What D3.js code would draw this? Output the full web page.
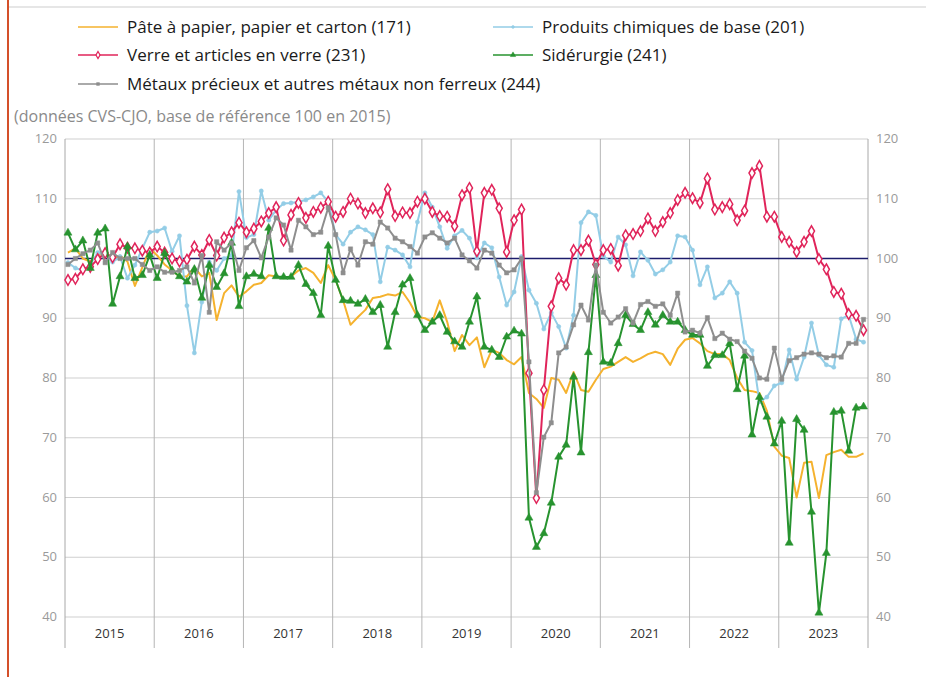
<!DOCTYPE html>
<html>
<head>
<meta charset="utf-8">
<script src="https://cdn.jsdelivr.net/npm/d3@7"></script>
<style>
  body { margin: 0; background: #fff; }
  svg { display: block; font-family: "Open Sans", "Noto Sans", sans-serif; }
</style>
</head>
<body>
<svg id="chart" width="926" height="677"></svg>
<script>
// indices mensuels, janv. 2015 -> déc. 2023
const years = ['2015', '2016', '2017', '2018', '2019', '2020', '2021', '2022', '2023'];
const yTicks = [40, 50, 60, 70, 80, 90, 100, 110, 120];

const papier = [
  101, 101.7, 100, 99.5, 100.5, 101, 100, 100.5, 99.5, 95.4, 98.5, 101.7,
  100.5, 99, 98, 97, 97, 98.5, 97, 97.6, 89.7, 94.2, 95.5, 93.6,
  94.5, 95.6, 95.9, 97.2, 97, 96.7, 97, 98, 98.4, 97.6, 95.9, 98.9,
  96.4, 93, 88.9, 90.2, 91.4, 93.4, 93.6, 94, 93.8, 94.4, 92.6, 90.2,
  90, 89.4, 93, 89.4, 84.5, 87.2, 85.5, 86.8, 81.8, 84.7, 84.2, 83,
  82.3, 83.5, 77.5, 76.5, 75, 80, 79.7, 77.5, 81, 78, 77.7, 79.7,
  81.5, 81.9, 82.7, 83.5, 82.7, 83.3, 84, 84.4, 84, 82.2, 84.9, 86.4,
  86.7, 85.8, 84.5, 84, 84, 83, 80, 78, 77.8, 77.5, 74.5, 68.5,
  67, 66.6, 60, 65.8, 66, 59.9, 67.1, 67.6, 68, 66.8, 66.8, 67.4
];

const chimie = [
  99.3, 98.4, 98, 99, 101, 100.6, 99.4, 100.3, 96.7, 98.9, 101.7, 104.4,
  104.6, 105.1, 101.2, 103.8, 92.1, 84.2, 92.7, 99.4, 98, 100, 100.5, 111.2,
  103.5, 104, 111.3, 106.4, 108.1, 109.2, 109.3, 109.5, 109.8, 110.3, 111, 109.5,
  104, 102.4, 104.4, 105.3, 104.8, 104, 96.1, 101.9, 101.4, 100.6, 98.6, 106.1,
  111, 108.6, 105.3, 101.7, 103.8, 104.7, 103.4, 100.1, 102.6, 101.8, 96.9, 92.2,
  94.4, 100.3, 94.7, 92.5, 88.2, 90.9, 88.6, 85, 90.5, 106, 107.8, 107.2,
  100.4, 99.4, 103.6, 102.3, 97.1, 101.1, 99.7, 97.4, 98.1, 99.4, 103.8, 103.6,
  101.4, 95.6, 98.6, 93.4, 94.2, 96.1, 94.2, 86, 84.6, 76, 76.8, 78.7,
  79.2, 84.7, 79.8, 83.5, 89.2, 83.8, 82.2, 81.8, 89.9, 90.5, 86.5, 86
];

const verre = [
  96.4, 96.6, 98.2, 98.6, 99.9, 100.9, 100.2, 102.4, 101.8, 101.7, 101.3, 101,
  102, 101, 100, 99.5, 99.8, 102, 100.6, 103.1, 100.5, 103.5, 104.4, 106,
  104.4, 105, 106.2, 107.6, 108.6, 103, 107.3, 109.3, 106.8, 107.8, 108.5, 109.5,
  107, 107.8, 110, 109.2, 107.6, 108.4, 107.7, 111.6, 107.1, 107.7, 107.6, 109.5,
  110, 107.8, 107.1, 107, 105.4, 110.6, 111.8, 101.2, 111, 111.5, 108.4, 101.1,
  106.4, 108.2, 80.8, 59.9, 78, 92, 96.7, 95.6, 101.4, 101.4, 103, 99,
  101.4, 101.6, 98.8, 103.9, 104.1, 104.6, 106.7, 104.6, 106.1, 107.6, 109.8, 111,
  110.1, 109.3, 113.4, 108.2, 108.6, 109.1, 106.4, 108, 114.3, 115.5, 107, 107,
  103.6, 102.8, 101.1, 102.8, 104.6, 99.9, 98.2, 94.4, 94.1, 90.7, 90.4, 88
];

const siderurgie = [
  104.3, 101.5, 103, 98.4, 104.3, 105, 92.4, 97, 102, 96.7, 97.2, 100.6,
  96.7, 100.9, 98, 97, 96.1, 98.2, 93.4, 98.9, 95.2, 97.5, 102.6, 92,
  97, 97.4, 97, 105.1, 97, 96.9, 96.9, 98.9, 95.7, 94.2, 90.5, 102.1,
  96.4, 93, 92.9, 92.4, 93.2, 91, 92.2, 85.2, 91, 95.6, 96.7, 90.5,
  88, 89.4, 90.5, 87.7, 86.1, 85.2, 89.4, 93.6, 85.2, 84.7, 83.5, 86.9,
  87.9, 87.4, 56.6, 51.7, 54, 59.1, 66.8, 68.8, 80.2, 67.5, 84.3, 97.2,
  82.7, 82.5, 85.8, 90.5, 89, 88, 91, 88.9, 90.5, 89.4, 89.4, 88,
  87.2, 87.2, 82, 83.8, 83.8, 85.8, 78.1, 83.7, 70.5, 76.8, 73.5, 69,
  72.8, 52.4, 73.1, 71.3, 57.6, 40.7, 50.7, 74.3, 74.5, 67.8, 75, 75.2
];

const metaux = [
  99, 100, 100.8, 101.4, 102.6, 99.3, 101, 100, 100, 100, 99, 98,
  98.6, 97.7, 97.7, 98, 98.6, 95.9, 100.5, 91, 102.8, 101.4, 102.6, 98,
  101.8, 103, 100.1, 103.6, 106.8, 105.6, 101.4, 106.4, 105.3, 104, 104.4, 108.5,
  104, 97.6, 101.6, 98.9, 102.8, 102.4, 106.1, 105.1, 103.4, 102.8, 102, 100.9,
  103.6, 104.3, 103.4, 102.6, 103.4, 100.6, 99.6, 98.4, 101.4, 100.9, 98.9, 97.6,
  98.1, 100, 82.7, 60.8, 70.1, 72.5, 84.2, 85.2, 88.9, 92.2, 89.7, 98.9,
  91, 89.2, 90.2, 91.6, 89.2, 92.3, 92.8, 92, 92.4, 90.5, 94.2, 87.7,
  88, 87.5, 90.1, 86.6, 87.5, 86.5, 86.1, 84.5, 83.3, 80, 79.8, 85,
  79.8, 82.9, 83.4, 84, 84.2, 84, 83.4, 83.7, 83.5, 85.8, 85.8, 89.8
];

const series = [
  { label: 'Pâte à papier, papier et carton (171)', values: papier, color: '#f5b22e', symbol: null },
  { label: 'Produits chimiques de base (201)', values: chimie, color: '#93cde6', symbol: d3.symbolCircle, size: 14, fill: '#93cde6' },
  { label: 'Verre et articles en verre (231)', values: verre, color: '#e0245a', symbol: d3.symbolDiamond, size: 32, fill: '#fff' },
  { label: 'Sidérurgie (241)', values: siderurgie, color: '#27932f', symbol: d3.symbolTriangle, size: 28, fill: '#27932f' },
  { label: 'Métaux précieux et autres métaux non ferreux (244)', values: metaux, color: '#8e8e8e', symbol: d3.symbolSquare, size: 18, fill: '#8e8e8e' }
];

const svg = d3.select('#chart');
const mLeft = 65, mRight = 868, mTop = 139, mBottom = 617;

const x = d3.scaleLinear().domain([0, 108]).range([mLeft, mRight]);
const y = d3.scaleLinear().domain([40, 120]).range([mBottom, mTop]);

// cadre de page
svg.append('line').attr('x1', 8).attr('x2', 8).attr('y1', 0).attr('y2', 677)
  .attr('stroke', '#d4502a').attr('stroke-width', 2);
svg.append('line').attr('x1', 9).attr('x2', 926).attr('y1', 7).attr('y2', 7)
  .attr('stroke', '#e6e6e6').attr('stroke-width', 2);

// grille horizontale
svg.append('g')
  .selectAll('line')
  .data(yTicks)
  .join('line')
  .attr('x1', mLeft).attr('x2', mRight)
  .attr('y1', d => y(d)).attr('y2', d => y(d))
  .attr('stroke', '#cfcfcf').attr('stroke-width', 1);

// séparations annuelles + graduations
svg.append('g')
  .selectAll('line')
  .data(d3.range(years.length + 1))
  .join('line')
  .attr('x1', d => x(d * 12)).attr('x2', d => x(d * 12))
  .attr('y1', mTop).attr('y2', mBottom + 31)
  .attr('stroke', d => (d === 0 || d === years.length) ? '#a8a8a8' : '#b5b5b5')
  .attr('stroke-width', 1);

// libellés années
svg.append('g')
  .selectAll('text')
  .data(years)
  .join('text')
  .attr('x', (d, i) => x(i * 12 + 6))
  .attr('y', mBottom + 21)
  .attr('text-anchor', 'middle')
  .attr('font-size', 13)
  .attr('fill', '#333')
  .text(d => d);

// axes Y gauche et droit
svg.append('g')
  .selectAll('text')
  .data(yTicks)
  .join('text')
  .attr('x', mLeft - 8).attr('y', d => y(d) + 4)
  .attr('text-anchor', 'end')
  .attr('font-size', 13)
  .attr('fill', '#9a9a9a')
  .text(d => d);

svg.append('g')
  .selectAll('text')
  .data(yTicks)
  .join('text')
  .attr('x', mRight + 8).attr('y', d => y(d) + 4)
  .attr('font-size', 13)
  .attr('fill', '#9a9a9a')
  .text(d => d);

// ligne de référence 100
svg.append('line')
  .attr('x1', mLeft).attr('x2', mRight)
  .attr('y1', y(100)).attr('y2', y(100))
  .attr('stroke', '#1c1c6b').attr('stroke-width', 1.6);

// courbes
const line = d3.line()
  .x((d, i) => x(i + 0.4))
  .y(d => y(d));

series.forEach(s => {
  const g = svg.append('g');
  g.append('path')
    .datum(s.values)
    .attr('d', line)
    .attr('fill', 'none')
    .attr('stroke', s.color)
    .attr('stroke-width', 2)
    .attr('stroke-linejoin', 'round');
  if (s.symbol) {
    g.selectAll('path.pt')
      .data(s.values)
      .join('path')
      .attr('class', 'pt')
      .attr('d', d3.symbol().type(s.symbol).size(s.size))
      .attr('transform', (d, i) => `translate(${x(i + 0.4)},${y(d)})`)
      .attr('fill', s.fill)
      .attr('stroke', s.color)
      .attr('stroke-width', s.fill === '#fff' ? 1.5 : 0.5);
  }
});

// légende
const legendPos = [[78, 27], [493, 27], [78, 55], [493, 55], [78, 84]];
const leg = svg.append('g')
  .selectAll('g')
  .data(series)
  .join('g')
  .attr('transform', (d, i) => `translate(${legendPos[i][0]},${legendPos[i][1]})`);

leg.append('line')
  .attr('x1', 0).attr('x2', 40)
  .attr('stroke', d => d.color).attr('stroke-width', 1.6);
leg.filter(d => d.symbol)
  .append('path')
  .attr('d', d => d3.symbol().type(d.symbol).size(d.size * 0.45)())
  .attr('transform', 'translate(20,0)')
  .attr('fill', d => d.fill)
  .attr('stroke', d => d.color)
  .attr('stroke-width', d => d.fill === '#fff' ? 1.2 : 0.5);
leg.append('text')
  .attr('x', 49).attr('y', 6)
  .attr('font-size', 17)
  .attr('fill', '#1a1a1a')
  .text(d => d.label);

// sous-titre
svg.append('text')
  .attr('x', 14).attr('y', 122)
  .attr('font-size', 16)
  .attr('fill', '#8a8a8a')
  .text('(données CVS-CJO, base de référence 100 en 2015)');
</script>
</body>
</html>
